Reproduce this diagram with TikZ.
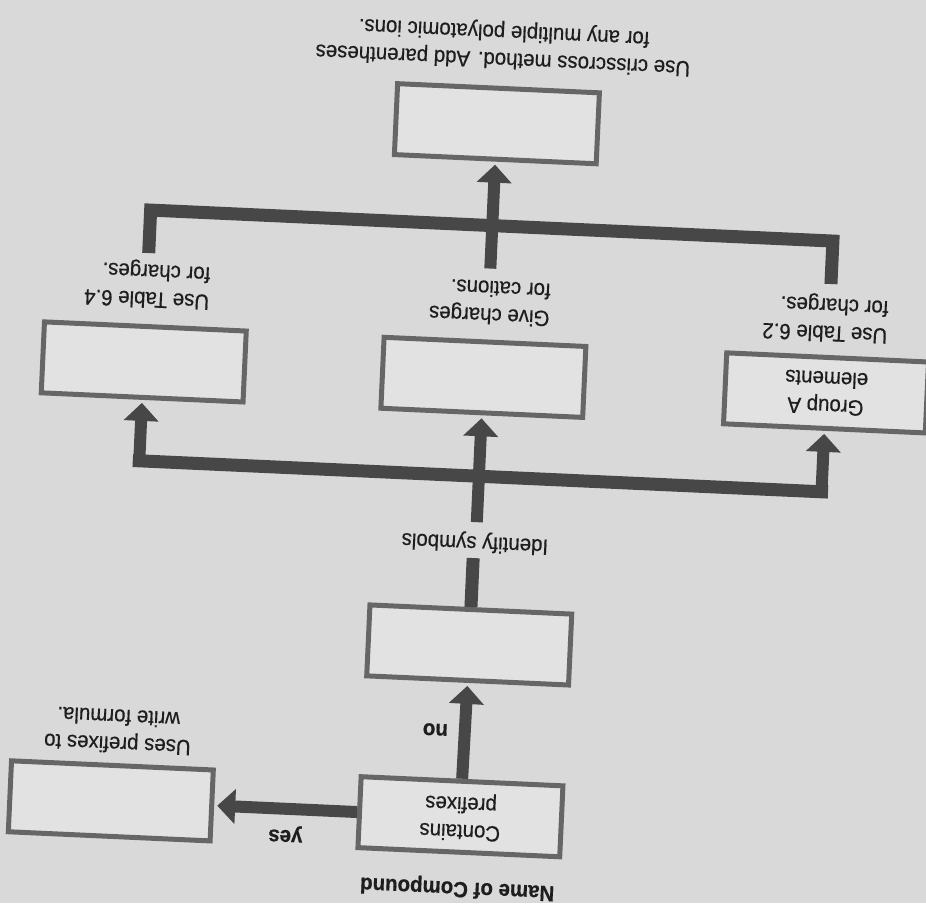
\documentclass[tikz,border=0pt]{standalone}
\usepackage{fontspec}
\setmainfont{Liberation Sans}[FakeStretch=0.93, FakeBold=0.5]
\usetikzlibrary{arrows.meta}
\definecolor{bg}{HTML}{D9D9D9}
\definecolor{boxfill}{HTML}{E2E2E2}
\definecolor{boxline}{HTML}{666666}
\definecolor{arr}{HTML}{474747}
\definecolor{txt}{HTML}{1E1E1E}
\begin{document}
\begin{tikzpicture}[x=1pt,y=1pt,
  fbox/.style={draw=boxline, line width=5pt, fill=boxfill, minimum width=202pt, minimum height=71pt, inner sep=0pt, align=center, font=\fontsize{22}{27.5}\selectfont, text=txt},
  lbl/.style={align=center, font=\fontsize{22}{27.5}\selectfont, text=txt, inner sep=0pt},
  lbll/.style={lbl, align=left},
  blbl/.style={lbl, font=\fontsize{22}{27.5}\selectfont\bfseries},
  flow/.style={draw=arr, line width=12pt, shorten >=3pt, -{Triangle[width=34pt,length=18pt]}},
  bar/.style={draw=arr, line width=13pt, line join=miter},
]
\fill[bg] (0,0) rectangle (926,903);
\useasboundingbox (0,0) rectangle (926,903);
\begin{scope}[shift={(463,451.5)}, rotate=177.4, transform shape]
  % top part
  \node[blbl] (name) at (-14,436) {Name of Compound};
  \node[fbox] (contains) at (-14,365) {Contains\\prefixes};
  \node[fbox] (uses) at (336,365) {};
  \node[lbl] (usestxt) at (332,295) {Uses prefixes to\\write formula.};
  \node[blbl] (yes) at (160,390) {yes};
  \node[blbl] (no) at (15,279) {no};
  \node[fbox] (blank) at (-15,193) {};
  \node[lbl] (ident) at (-16,90) {Identify symbols};
  % row 2
  \node[fbox] (groupA) at (-360,-75) {Group A\\elements};
  \node[fbox] (cat) at (-17,-75) {};
  \node[fbox] (poly) at (323,-75) {};
  \node[lbll] (t62) at (-356,-150) {Use Table 6.2\\for charges.};
  \node[lbll] (tgive) at (-20,-150) {Give charges\\for cations.};
  \node[lbll] (t64) at (323,-153) {Use Table 6.4\\for charges.};
  % bottom
  \node[fbox] (cross) at (-19,-329) {};
  \node[lbl] (crosstxt) at (-22,-408) {Use crisscross method. Add parentheses\\for any multiple polyatomic ions.};
  % coordinates
  \coordinate (lbL) at (-360,24);
  \coordinate (lbR) at (323,24);
  \coordinate (stemA) at (-15,106);
  \coordinate (stemB) at (-17,70);
  \coordinate (ubL) at (-360,-184);
  \coordinate (ubR) at (323,-184);
  \coordinate (ubM) at (-19,-184);
  % connectors
  \draw[flow] (contains.east) -- (uses.west);
  \draw[flow] (contains.south) -- (blank.north);
  \draw[bar] (blank.south) -- (stemA);
  \draw[bar, line cap=rect] (lbL) -- (lbR);
  \draw[flow] (stemB) -- (cat.north);
  \draw[flow] (lbL) -- (groupA.north);
  \draw[flow] (lbR) -- (poly.north);
  \draw[bar] (ubL) -- (ubL |- 0,-227) -- (ubR |- 0,-227) -- (ubR);
  \draw[flow] (ubM) -- (cross.north);
\end{scope}
\end{tikzpicture}
\end{document}
